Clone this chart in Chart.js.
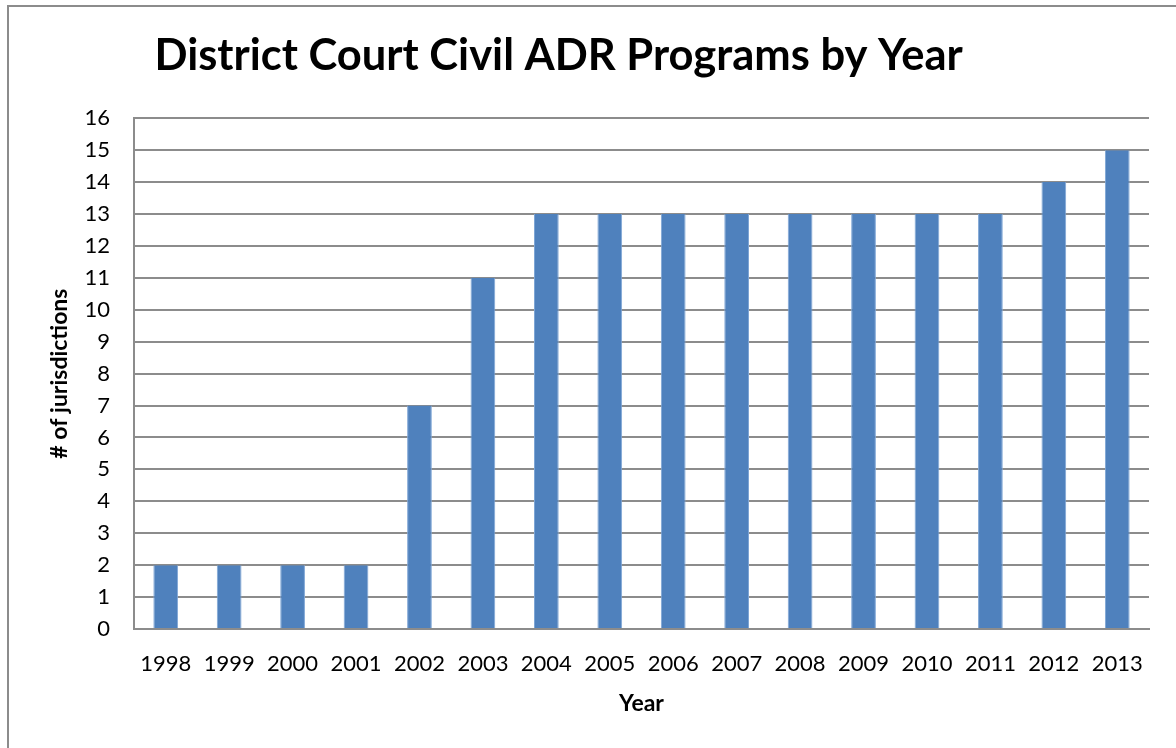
<!DOCTYPE html>
<html><head><meta charset="utf-8">
<script src="https://cdn.jsdelivr.net/npm/chart.js@4.4.0/dist/chart.umd.min.js"></script>
<style>
html,body{margin:0;padding:0;background:#fff;overflow:hidden}
#wrap{position:absolute;left:0;top:0;width:1176px;height:748px}
#frame{position:absolute;left:7px;top:5px;width:1200px;height:800px;border:2px solid #8c8c8c;box-sizing:border-box;pointer-events:none}
</style></head>
<body>
<div id="wrap"><canvas id="c" width="1176" height="748"></canvas></div>
<div id="frame"></div>
<script>
const years = ['1998','1999','2000','2001','2002','2003','2004','2005','2006','2007','2008','2009','2010','2011','2012','2013'];
const jurisdictions = [2,2,2,2,7,11,13,13,13,13,13,13,13,13,14,15];
const yTicks = [0,1,2,3,4,5,6,7,8,9,10,11,12,13,14,15,16];
const FONT = 'Lato, "Liberation Sans", sans-serif';

new Chart(document.getElementById('c'), {
  type: 'bar',
  data: { labels: years, datasets: [{
    data: jurisdictions,
    backgroundColor: '#4f81bd',
    borderColor: '#7fa6d6',
    borderWidth: {left:1,right:1,top:0,bottom:0},
    barPercentage: 0.39,
    categoryPercentage: 1.0
  }]},
  options: {
    responsive: false,
    animation: false,
    devicePixelRatio: 1,
    layout: { padding: { left: 0, right: 27, top: 0, bottom: 0 } },
    plugins: {
      legend: { display: false },
      tooltip: { enabled: false },
      title: {
        display: true,
        text: 'District Court Civil ADR Programs by Year   ',
        color: '#000',
        font: { family: FONT, size: 43.5, weight: 'bold' },
        padding: { top: 30, bottom: 36 },
        align: 'center'
      }
    },
    scales: {
      x: {
        grid: { display: false, drawTicks: false },
        border: { color: '#8c8c8c', width: 2 },
        ticks: { color: '#000', font: { family: FONT, size: 22 }, padding: 22, maxRotation: 0, autoSkip: false },
        title: { display: true, text: 'Year', color: '#000', font: { family: FONT, size: 23, weight: 'bold' }, padding: { top: 0, bottom: 31 } },
        afterFit: s => { s.height = 119; }
      },
      y: {
        min: 0, max: 16,
        afterBuildTicks: s => { s.ticks = yTicks.map(v => ({ value: v })); },
        grid: { color: '#8c8c8c', lineWidth: 2, drawTicks: false },
        border: { color: '#8c8c8c', width: 2 },
        ticks: { color: '#000', font: { family: FONT, size: 22 }, padding: 24 },
        title: { display: true, text: '# of jurisdictions', color: '#000', font: { family: FONT, size: 23, weight: 'bold' }, padding: { top: 46, bottom: 0 } },
        afterFit: s => { s.width = 134; }
      }
    }
  }
});
</script>
</body></html>
